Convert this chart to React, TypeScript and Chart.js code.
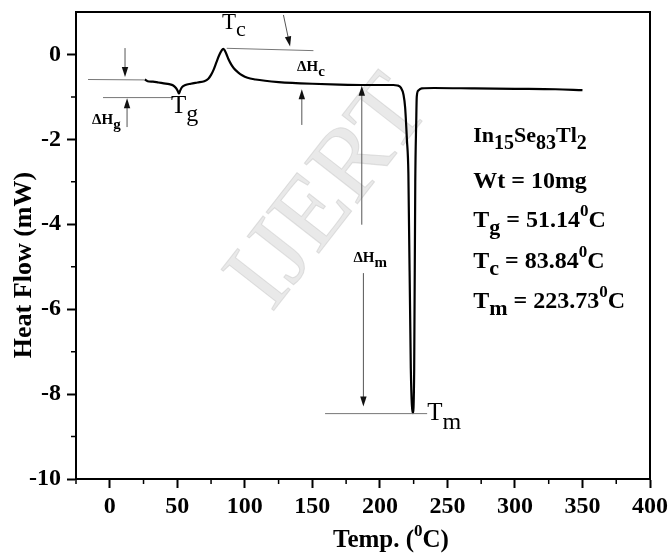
import React, { useEffect, useRef } from 'react';
import { Chart, registerables } from 'chart.js';

Chart.register(...registerables);

// ---- data ----
const tempC = [
  26, 28, 32, 36, 40, 44, 47, 49, 50.5, 51.2, 52, 53.5, 56, 60, 65, 70, 73, 75, 77, 79,
  81, 83, 84, 85, 86.5, 88, 90, 92, 95, 98, 102, 108, 115, 125, 135, 150, 170, 190, 210,
  213, 215.5, 217.5, 218.7, 220, 221.1, 222.9, 224.4, 225.4, 226.2, 226.9, 227.3, 228.5,
  231, 240, 270, 300, 330, 350,
];
const heatFlow = [
  -0.59, -0.63, -0.64, -0.66, -0.68, -0.70, -0.73, -0.79, -0.87, -0.92, -0.86, -0.77, -0.72,
  -0.69, -0.66, -0.63, -0.57, -0.48, -0.35, -0.18, -0.02, 0.10, 0.13, 0.10, 0.0, -0.12,
  -0.24, -0.33, -0.42, -0.49, -0.55, -0.59, -0.62, -0.65, -0.67, -0.69, -0.71, -0.72, -0.72,
  -0.73, -0.78, -0.95, -1.25, -2.0, -2.8, -7.4, -8.45, -7.4, -3.0, -1.6, -1.0, -0.85,
  -0.80, -0.79, -0.80, -0.81, -0.82, -0.84,
];

const xTickValues = [0, 50, 100, 150, 200, 250, 300, 350, 400];
const yTickValues = [-10, -8, -6, -4, -2, 0];
const xMinorTicks = [-25, 25, 75, 125, 175, 225, 275, 325, 375];
const yMinorTicks = [-9, -7, -5, -3, -1];
const xRange = [-25, 400];
const yRange = [-10, 1];

// baseline guide lines (data coordinates)
const guideLines: [number, number, number, number][] = [
  [-16.1, -0.59, 26, -0.6],
  [-5, -1.016, 47, -1.016],
  [86.6, 0.145, 150.8, 0.09],
  [159.4, -8.46, 235, -8.46],
];
// arrows: from (x1,y1) to head at (x2,y2)
const arrows: [number, number, number, number][] = [
  [11.3, 0.15, 11.3, -0.53],
  [12.8, -1.71, 12.8, -1.03],
  [128.6, 0.93, 133.5, 0.19],
  [142.2, -1.66, 142.2, -0.82],
  [186.6, -4.01, 186.6, -0.74],
  [187.8, -5.15, 187.8, -8.29],
];

type Part = [string, number, number];
type Label = { x: number; y: number; bold: boolean; parts: Part[] };

const labels: Label[] = [
  { x: -13.1, y: -1.635, bold: true, parts: [['ΔH', 15, 0], ['g', 15, 5]] },
  { x: 45.4, y: -1.38, bold: false, parts: [['T', 25, 0], ['g', 24, 8]] },
  { x: 83.1, y: 0.6, bold: false, parts: [['T', 23, 0], ['c', 22, 7]] },
  { x: 138.7, y: -0.39, bold: true, parts: [['ΔH', 15, 0], ['c', 15, 5]] },
  { x: 180.4, y: -4.9, bold: true, parts: [['ΔH', 15, 0], ['m', 15, 5]] },
  { x: 235, y: -8.6, bold: false, parts: [['T', 25, 0], ['m', 24, 9]] },
  {
    x: 269.1, y: -2.07, bold: true,
    parts: [['In', 22, 0], ['15', 20, 7], ['Se', 22, 0], ['83', 20, 7], ['Tl', 22, 0], ['2', 20, 7]],
  },
  { x: 269.1, y: -3.15, bold: true, parts: [['Wt = 10mg', 24, 0]] },
  {
    x: 269.1, y: -4.07, bold: true,
    parts: [['T', 24, 0], ['g', 22, 7], [' = 51.14', 24, 0], ['0', 17, -11], ['C', 24, 0]],
  },
  {
    x: 269.1, y: -5.02, bold: true,
    parts: [['T', 24, 0], ['c', 22, 7], [' = 83.84', 24, 0], ['0', 17, -11], ['C', 24, 0]],
  },
  {
    x: 269.1, y: -5.97, bold: true,
    parts: [['T', 24, 0], ['m', 22, 7], [' = 223.73', 24, 0], ['0', 17, -11], ['C', 24, 0]],
  },
];

const SERIF = '"Liberation Serif", "Times New Roman", serif';

function drawRich(ctx: CanvasRenderingContext2D, x: number, y: number, parts: Part[], bold: boolean) {
  let cx = x;
  for (const [t, size, dy] of parts) {
    ctx.font = `${bold ? 'bold ' : ''}${size}px ${SERIF}`;
    ctx.fillText(t, cx, y + dy);
    cx += ctx.measureText(t).width;
  }
}

const decorPlugin = {
  id: 'decor',
  beforeDatasetsDraw(chart: any) {
    const { ctx, scales } = chart;
    const xs = scales.x, ys = scales.y;
    // watermark
    ctx.save();
    ctx.translate(xs.getPixelForValue(163.5), ys.getPixelForValue(-3.3));
    ctx.rotate((-52 * Math.PI) / 180);
    ctx.font = `102px ${SERIF}`;
    ctx.textAlign = 'center';
    ctx.textBaseline = 'middle';
    ctx.fillStyle = 'rgba(226,226,226,0.75)';
    ctx.fillText('IJERT', 0, 0);
    ctx.strokeStyle = 'rgba(200,200,200,0.5)';
    ctx.lineWidth = 1;
    ctx.strokeText('IJERT', 0, 0);
    ctx.restore();
  },
  afterDraw(chart: any) {
    const { ctx, chartArea, scales } = chart;
    const xs = scales.x, ys = scales.y;
    const px = (v: number) => xs.getPixelForValue(v);
    const py = (v: number) => ys.getPixelForValue(v);
    ctx.save();
    // top & right frame
    ctx.strokeStyle = '#000';
    ctx.lineWidth = 2;
    ctx.beginPath();
    ctx.moveTo(chartArea.left, chartArea.top);
    ctx.lineTo(chartArea.right, chartArea.top);
    ctx.lineTo(chartArea.right, chartArea.bottom);
    ctx.stroke();
    // minor ticks
    ctx.lineWidth = 1.5;
    ctx.beginPath();
    for (const v of xMinorTicks) {
      ctx.moveTo(px(v), chartArea.bottom);
      ctx.lineTo(px(v), chartArea.bottom + 5);
    }
    for (const v of yMinorTicks) {
      ctx.moveTo(chartArea.left, py(v));
      ctx.lineTo(chartArea.left - 5, py(v));
    }
    ctx.stroke();
    // guide lines
    ctx.strokeStyle = '#777';
    ctx.lineWidth = 1;
    for (const [x1, y1, x2, y2] of guideLines) {
      ctx.beginPath();
      ctx.moveTo(px(x1), py(y1));
      ctx.lineTo(px(x2), py(y2));
      ctx.stroke();
    }
    // arrows
    for (const [x1, y1, x2, y2] of arrows) {
      const ax = px(x1), ay = py(y1), bx = px(x2), by = py(y2);
      const ang = Math.atan2(by - ay, bx - ax);
      ctx.strokeStyle = '#555';
      ctx.lineWidth = 1;
      ctx.beginPath();
      ctx.moveTo(ax, ay);
      ctx.lineTo(bx - 6 * Math.cos(ang), by - 6 * Math.sin(ang));
      ctx.stroke();
      ctx.fillStyle = '#111';
      ctx.beginPath();
      ctx.moveTo(bx, by);
      ctx.lineTo(bx - 10 * Math.cos(ang) + 3.2 * Math.sin(ang), by - 10 * Math.sin(ang) - 3.2 * Math.cos(ang));
      ctx.lineTo(bx - 10 * Math.cos(ang) - 3.2 * Math.sin(ang), by - 10 * Math.sin(ang) + 3.2 * Math.cos(ang));
      ctx.closePath();
      ctx.fill();
    }
    // labels
    ctx.fillStyle = '#000';
    ctx.textBaseline = 'alphabetic';
    ctx.textAlign = 'left';
    for (const l of labels) drawRich(ctx, px(l.x), py(l.y), l.parts, l.bold);
    // axis titles
    drawRich(ctx, chartArea.left + 257, chartArea.bottom + 68,
      [['Temp. (', 25, 0], ['0', 17, -11], ['C)', 25, 0]], true);
    ctx.translate(chartArea.left - 52, chartArea.top + 253);
    ctx.rotate(-Math.PI / 2);
    ctx.font = `bold 26px ${SERIF}`;
    ctx.textAlign = 'center';
    ctx.textBaseline = 'middle';
    ctx.fillText('Heat Flow (mW)', 0, 0);
    ctx.restore();
  },
};

export default function App() {
  const ref = useRef<HTMLCanvasElement>(null);
  useEffect(() => {
    if (!ref.current) return;
    const points = tempC.map((t, i) => ({ x: t, y: heatFlow[i] }));
    const chart = new Chart(ref.current, {
      type: 'line',
      data: {
        datasets: [
          {
            data: points,
            borderColor: '#000',
            borderWidth: 2.2,
            pointRadius: 0,
            fill: false,
            cubicInterpolationMode: 'monotone',
          },
        ],
      },
      options: {
        animation: false,
        responsive: false,
        devicePixelRatio: 1,
        layout: { padding: { top: 12, right: 20, left: 0, bottom: 0 } },
        plugins: { legend: { display: false }, tooltip: { enabled: false } },
        scales: {
          x: {
            type: 'linear',
            min: xRange[0],
            max: xRange[1],
            afterBuildTicks: (s: any) => { s.ticks = xTickValues.map((v) => ({ value: v })); },
            afterFit: (s: any) => { s.height = 74; s.paddingLeft = 0; s.paddingRight = 0; },
            border: { display: true, color: '#000', width: 2 },
            grid: { display: true, drawOnChartArea: false, drawTicks: true, tickLength: 9, tickColor: '#000', tickWidth: 2 },
            ticks: { color: '#000', padding: 4, maxRotation: 0, font: { family: SERIF, size: 24, weight: 'bold' } },
          },
          y: {
            type: 'linear',
            min: yRange[0],
            max: yRange[1],
            afterBuildTicks: (s: any) => { s.ticks = yTickValues.map((v) => ({ value: v })); },
            afterFit: (s: any) => { s.width = 76; s.paddingTop = 0; s.paddingBottom = 0; },
            border: { display: true, color: '#000', width: 2 },
            grid: { display: true, drawOnChartArea: false, drawTicks: true, tickLength: 9, tickColor: '#000', tickWidth: 2 },
            ticks: { color: '#000', padding: 6, font: { family: SERIF, size: 24, weight: 'bold' } },
          },
        },
      },
      plugins: [decorPlugin],
    } as any);
    return () => chart.destroy();
  }, []);
  return (
    <div style={{ position: 'absolute', left: 0, top: 0, width: 670, height: 553, background: '#fff' }}>
      <canvas ref={ref} width={670} height={553} style={{ display: 'block' }} />
    </div>
  );
}
